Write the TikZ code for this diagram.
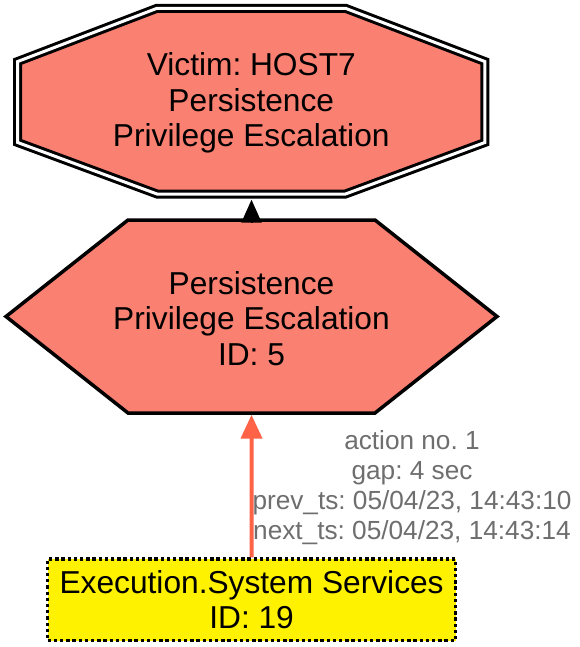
\documentclass[tikz,border=0pt]{standalone}
\usepackage{fontspec}
\setmainfont{Liberation Sans}
\usepackage{tikz}
\usetikzlibrary{positioning,arrows.meta,calc}
\definecolor{salmonfill}{HTML}{FA8072}
\definecolor{tomatoline}{HTML}{FF6347}
\definecolor{lblgray}{HTML}{6E6E6E}
\frenchspacing
\tikzset{
  vic/.style={draw=black, line width=3pt, double=white, double distance=3pt, fill=salmonfill, line join=miter},
  act/.style={draw=black, line width=3.5pt, fill=salmonfill, line join=miter},
  txt/.style={inner sep=0pt, align=center, font=\fontsize{31.7}{35.5}\selectfont},
  src/.style={draw=black, line width=3.3pt, dash pattern=on 3.3pt off 2.9pt, fill=yellow, inner sep=0pt, align=center, font=\fontsize{31.7}{34.5}\selectfont},
  lbl/.style={inner sep=0pt, align=center, text=lblgray, font=\fontsize{26.2}{30}\selectfont},
  bl/.style={-{Triangle[length=23pt, width=20pt]}, line width=2pt, black},
  rl/.style={-{Triangle[length=24pt, width=21pt]}, line width=4pt, tomatoline},
}
\begin{document}
\begin{tikzpicture}[x=1pt, y=-1pt]
\useasboundingbox (0,0) rectangle (580,647);
% shapes
\draw[vic] (157,8.3) -- (345.5,8.3) -- (484.8,61.5) -- (484.8,142.5) -- (345.5,194) -- (157,194) -- (17.7,142.5) -- (17.7,61.5) -- cycle;
\draw[act] (128,220) -- (375,220) -- (497,316.5) -- (375,413) -- (128,413) -- (6,316.5) -- cycle;
% nodes
\node[txt, minimum width=477pt, minimum height=193pt] (victim) at (251.3,103) {Victim: HOST7\\Persistence\\Privilege Escalation};
\node[txt, minimum width=493pt, minimum height=192pt] (attack) at (251.5,318.5) {Persistence\\Privilege Escalation\\ID: 5};
\node[src, minimum width=408pt, minimum height=81.5pt] (exec) at (251.6,599.75) {Execution.System Services\\ID: 19};
\node[lbl] (gap) at (412,488) {action no. 1\\gap: 4 sec\\prev\_ts: 05/04/23, 14:43:10\\next\_ts: 05/04/23, 14:43:14};
% edges
\draw[bl] (attack.north) -- (attack.north |- victim.south);
\draw[rl] (exec.north) -- (attack.south);
\end{tikzpicture}
\end{document}
